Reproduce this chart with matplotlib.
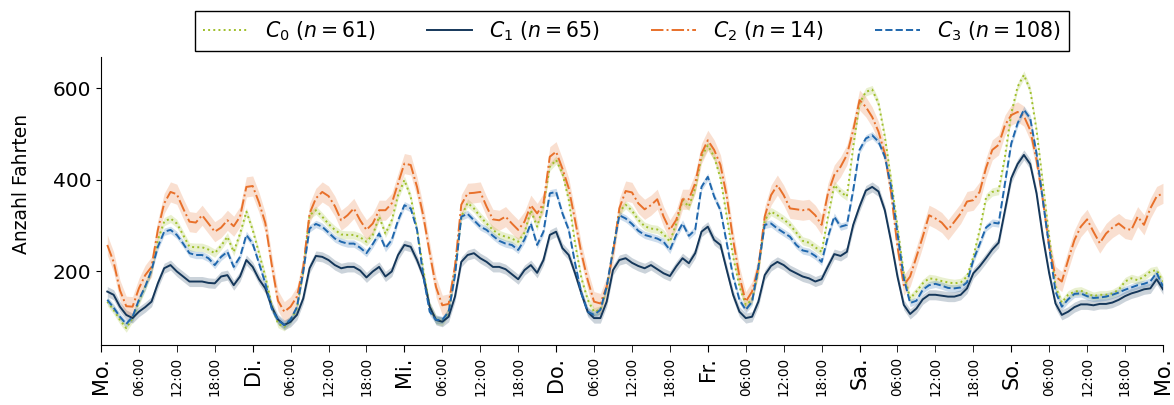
import numpy as np
import matplotlib
matplotlib.use("Agg")
import matplotlib.pyplot as plt

# hourly mean trips over one week (hour 1 .. 168, Monday 00:00 = 0)
c0 = [133, 115, 93, 75, 97, 133, 166, 202, 268, 308, 315, 304, 279, 253, 252, 252, 247, 239, 255, 275, 242, 282, 330, 290, 239, 188, 126, 85,
      78, 93, 118, 202, 322, 333, 319, 303, 290, 280, 279, 279, 274, 264, 279, 319, 282, 311, 366, 399, 362, 290, 202, 122, 93, 89, 111, 200,
      319, 349, 337, 319, 304, 290, 280, 275, 271, 264, 284, 333, 297, 344, 428, 443, 414, 355, 260, 184, 137, 111, 115, 162, 246, 330, 345, 332,
      312, 298, 293, 291, 281, 264, 304, 355, 341, 381, 450, 475, 450, 403, 319, 231, 166, 126, 137, 202, 312, 330, 322, 313, 301, 284, 266,
      262, 252, 242, 319, 388, 373, 363, 472, 567, 592, 597, 567, 494, 399, 297, 195, 140, 155, 173, 184, 182, 178, 175, 173, 175, 188, 231, 290, 360,
      373, 376, 450, 545, 603, 629, 596, 508, 392, 275, 166, 131, 148, 155, 157, 151, 145, 148, 148, 151, 159, 177, 184, 180, 188, 199, 202, 177]
c1 = [155, 148, 122, 104, 97, 111, 121, 133, 173, 206, 213, 199, 188, 177, 177, 177, 174, 173, 188, 191, 169, 188, 224, 209, 182, 162, 122, 94,
      82, 89, 104, 140, 206, 233, 231, 224, 213, 206, 209, 209, 201, 186, 199, 209, 188, 199, 235, 257, 253, 224, 188, 122, 93, 89, 100, 144,
      220, 235, 239, 228, 220, 209, 209, 204, 193, 182, 202, 213, 196, 224, 279, 286, 250, 235, 195, 151, 111, 97, 97, 133, 202, 224, 228, 218,
      211, 206, 213, 204, 195, 189, 210, 228, 217, 239, 286, 297, 268, 257, 202, 148, 111, 97, 100, 133, 191, 211, 220, 213, 202, 195, 188,
      184, 177, 182, 210, 237, 233, 242, 301, 341, 376, 384, 374, 333, 264, 188, 126, 106, 118, 138, 148, 148, 146, 144, 144, 148, 162, 195, 210, 228,
      247, 262, 333, 403, 434, 454, 434, 370, 275, 195, 129, 104, 111, 121, 127, 127, 125, 128, 128, 131, 137, 145, 151, 155, 160, 162, 182, 160]
c2 = [257, 220, 158, 123, 122, 162, 191, 209, 290, 348, 373, 368, 337, 308, 306, 322, 304, 286, 295, 311, 298, 319, 384, 386, 350, 305, 215, 135,
      111, 122, 144, 209, 326, 359, 373, 364, 342, 311, 322, 337, 311, 290, 304, 333, 333, 348, 392, 435, 432, 384, 320, 240, 165, 125, 128, 210,
      345, 370, 371, 373, 341, 313, 311, 319, 304, 290, 308, 344, 326, 348, 450, 461, 424, 381, 311, 239, 180, 133, 129, 166, 239, 337, 375, 372,
      348, 335, 344, 357, 319, 290, 312, 357, 357, 392, 457, 486, 465, 432, 363, 268, 188, 133, 155, 209, 319, 366, 388, 366, 337, 335, 333,
      335, 322, 301, 370, 410, 428, 454, 508, 574, 559, 537, 505, 457, 370, 253, 169, 188, 231, 275, 322, 315, 306, 290, 308, 326, 352, 355, 373, 425,
      465, 476, 519, 541, 548, 539, 508, 443, 355, 253, 188, 177, 224, 268, 297, 313, 286, 261, 282, 295, 304, 293, 290, 319, 301, 337, 363, 370]
c3 = [137, 120, 100, 84, 100, 137, 166, 202, 253, 286, 290, 279, 260, 239, 235, 235, 228, 213, 231, 242, 209, 231, 279, 260, 217, 173, 118, 93,
      82, 94, 121, 199, 293, 303, 297, 284, 271, 264, 260, 260, 251, 239, 259, 282, 250, 268, 311, 344, 337, 290, 188, 111, 93, 93, 111, 190,
      319, 325, 311, 297, 290, 277, 266, 260, 257, 246, 269, 304, 257, 286, 370, 373, 326, 290, 217, 151, 111, 104, 115, 166, 246, 322, 315, 303,
      288, 279, 275, 271, 264, 246, 279, 304, 277, 290, 384, 406, 363, 333, 261, 188, 137, 115, 133, 209, 301, 304, 293, 284, 275, 257, 245,
      242, 233, 220, 275, 319, 297, 301, 377, 465, 490, 497, 483, 450, 384, 282, 184, 130, 135, 159, 169, 172, 168, 163, 162, 164, 175, 224, 259, 295,
      306, 304, 392, 479, 523, 553, 534, 457, 355, 253, 155, 122, 138, 150, 151, 145, 141, 142, 144, 148, 153, 159, 164, 169, 172, 177, 196, 166]

series = [c0, c1, c2, c3]
cluster_n = [61, 65, 14, 108]
ci_half = [9, 11, 22, 8]  # half width of the shaded band

day_labels = ["Mo.", "Di.", "Mi.", "Do.", "Fr.", "Sa.", "So.", "Mo."]
hour_labels = ["06:00", "12:00", "18:00"]

colors = ["#9fbf2a", "#15375a", "#e8702a", "#1f67ad"]
styles = [":", "-", "-.", "--"]

hours = np.arange(1, 169)

fig = plt.figure(figsize=(11.74, 4.05), dpi=100)
ax = fig.add_axes([0.086, 0.148, 0.9046, 0.711])

for i, vals in enumerate(series):
    vals = np.array(vals, dtype=float)
    assert len(vals) == len(hours)
    ax.fill_between(hours, vals - ci_half[i], vals + ci_half[i], color=colors[i], alpha=0.22, lw=0)
    ax.plot(hours, vals, ls=styles[i], color=colors[i], lw=1.4,
            label=rf"$C_{i}$ ($n = {cluster_n[i]}$)")

ax.set_xlim(0, 168)
ax.set_ylim(38, 668)
ax.set_yticks([200, 400, 600])
ax.tick_params(axis="y", labelsize=14.5)
ax.set_ylabel("Anzahl Fahrten", fontsize=13.5)
ax.yaxis.set_label_coords(-0.066, 0.56)

ax.set_xticks(np.arange(0, 169, 24))
ax.set_xticklabels(day_labels, rotation=90, fontsize=15)
minor = [d * 24 + h for d in range(7) for h in (6, 12, 18)]
ax.set_xticks(minor, minor=True)
ax.set_xticklabels(hour_labels * 7, minor=True, rotation=90, fontsize=9.8)
ax.tick_params(axis="x", which="both", length=5)

ax.spines["top"].set_visible(False)
ax.spines["right"].set_visible(False)

leg = ax.legend(loc="lower center", bbox_to_anchor=(0.5, 1.0), ncol=4, fontsize=14.8,
                frameon=True, fancybox=False, edgecolor="black", framealpha=1,
                columnspacing=2.5, handlelength=2.2, borderaxespad=0.3)
leg.get_frame().set_linewidth(1.0)

fig.savefig("out.png", dpi=100)
